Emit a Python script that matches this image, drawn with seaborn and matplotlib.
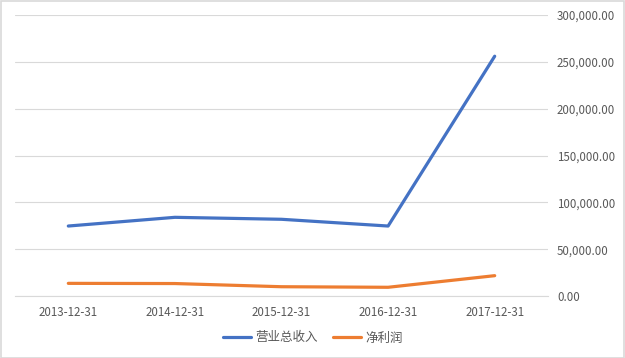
import matplotlib
matplotlib.use("Agg")
import matplotlib.pyplot as plt
import seaborn as sns
import pandas as pd
from matplotlib.ticker import FuncFormatter
from matplotlib.patches import Rectangle
from matplotlib.lines import Line2D

dates = ["2013-12-31", "2014-12-31", "2015-12-31", "2016-12-31", "2017-12-31"]
revenue = [74700, 84000, 81900, 74700, 256000]
net_profit = [13500, 13300, 9900, 9300, 21700]
series_names = ["营业总收入", "净利润"]
colors = ["#4472C4", "#ED7D31"]

df = pd.DataFrame({
    "date": dates * 2,
    "value": revenue + net_profit,
    "series": [series_names[0]] * len(dates) + [series_names[1]] * len(dates),
})

sns.set_theme(style="white")
plt.rcParams['font.family'] = ['Noto Sans CJK SC', 'DejaVu Sans']

W, H = 625, 358
fig = plt.figure(figsize=(W / 100, H / 100), dpi=100)
ax = fig.add_axes([15 / W, 1 - 296 / H, (548 - 15) / W, (296 - 15) / H])

sns.lineplot(data=df, x="date", y="value", hue="series", palette=colors,
             linewidth=2.3, ax=ax, legend=False, sort=False)

ax.set_xlim(-0.5, 4.5)
ax.set_ylim(0, 300000)
ax.set_yticks(range(0, 300001, 50000))
ax.yaxis.set_major_formatter(FuncFormatter(lambda v, p: f"{v:,.2f}"))
ax.yaxis.tick_right()
ax.grid(axis="y", color="#D9D9D9", linewidth=0.8)
ax.set_axisbelow(True)
for s in ["top", "left", "right"]:
    ax.spines[s].set_visible(False)
ax.spines["bottom"].set_color("#D9D9D9")
ax.spines["bottom"].set_linewidth(0.8)
ax.tick_params(axis="y", length=0, pad=6.5, labelsize=8.3, labelcolor="#595959")
ax.tick_params(axis="x", length=0, pad=7, labelsize=8.3, labelcolor="#595959")
ax.set_xlabel("")
ax.set_ylabel("")

handles = [Line2D([0], [0], color=c, linewidth=2.3) for c in colors]
fig.legend(handles, series_names, loc="center", bbox_to_anchor=(0.5, 1 - 338 / H),
           ncol=2, frameon=False, fontsize=9, handlelength=2.3, handletextpad=0.3,
           columnspacing=1.2, labelcolor="#595959")

fig.patches.append(Rectangle((0.5 / W, 0.5 / H), 1 - 1.5 / W, 1 - 1.5 / H, transform=fig.transFigure,
                             fill=False, edgecolor="#D9D9D9", linewidth=1.2))

fig.savefig("out.png", dpi=100, facecolor="white")
